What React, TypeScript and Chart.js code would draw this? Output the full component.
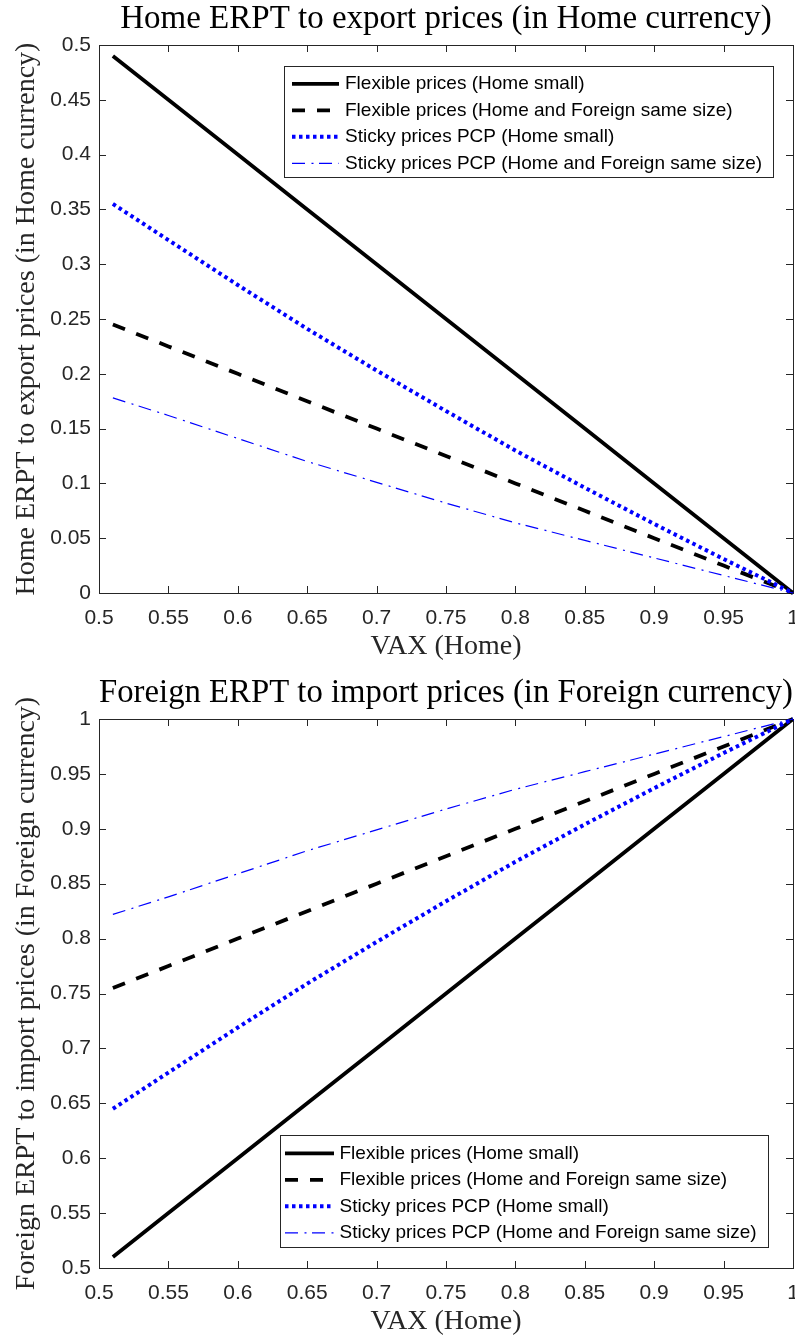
import React, { useEffect, useRef } from 'react';
import { Chart, registerables } from 'chart.js';

Chart.register(...registerables);

// ---------- data ----------
const vax = [0.51, 0.55, 0.6, 0.65, 0.7, 0.75, 0.8, 0.85, 0.9, 0.95, 1];

const homeFlexSmall = [0.49, 0.45, 0.4, 0.35, 0.3, 0.25, 0.2, 0.15, 0.1, 0.05, 0];
const homeFlexSame = [0.245, 0.225, 0.2, 0.175, 0.15, 0.125, 0.1, 0.075, 0.05, 0.025, 0];
const homeStickySmall = [0.355, 0.322, 0.281, 0.241, 0.203, 0.166, 0.13, 0.096, 0.063, 0.031, 0];
const homeStickySame = [0.178, 0.162, 0.141, 0.12, 0.101, 0.082, 0.064, 0.048, 0.032, 0.016, 0];

const foreignFlexSmall = [0.51, 0.55, 0.6, 0.65, 0.7, 0.75, 0.8, 0.85, 0.9, 0.95, 1];
const foreignFlexSame = [0.755, 0.775, 0.8, 0.825, 0.85, 0.875, 0.9, 0.925, 0.95, 0.975, 1];
const foreignStickySmall = [0.645, 0.678, 0.719, 0.759, 0.797, 0.834, 0.87, 0.904, 0.937, 0.969, 1];
const foreignStickySame = [0.822, 0.838, 0.859, 0.88, 0.899, 0.918, 0.936, 0.952, 0.968, 0.984, 1];

const seriesLabels = [
  'Flexible prices (Home small)',
  'Flexible prices (Home and Foreign same size)',
  'Sticky prices PCP (Home small)',
  'Sticky prices PCP (Home and Foreign same size)',
];

const xTicks = [0.5, 0.55, 0.6, 0.65, 0.7, 0.75, 0.8, 0.85, 0.9, 0.95, 1];
const xTickLabels = ['0.5', '0.55', '0.6', '0.65', '0.7', '0.75', '0.8', '0.85', '0.9', '0.95', '1'];
const homeYTicks = [0, 0.05, 0.1, 0.15, 0.2, 0.25, 0.3, 0.35, 0.4, 0.45, 0.5];
const homeYTickLabels = ['0', '0.05', '0.1', '0.15', '0.2', '0.25', '0.3', '0.35', '0.4', '0.45', '0.5'];
const foreignYTicks = [0.5, 0.55, 0.6, 0.65, 0.7, 0.75, 0.8, 0.85, 0.9, 0.95, 1];
const foreignYTickLabels = ['0.5', '0.55', '0.6', '0.65', '0.7', '0.75', '0.8', '0.85', '0.9', '0.95', '1'];

const homeTitle = 'Home ERPT to export prices (in Home currency)';
const homeYLabel = 'Home ERPT to export prices (in Home currency)';
const foreignTitle = 'Foreign ERPT to import prices (in Foreign currency)';
const foreignYLabel = 'Foreign ERPT to import prices (in Foreign currency)';
const xLabel = 'VAX (Home)';

// ---------- styles ----------
const AXIS = '#262626';
const SERIF = '"Liberation Serif", "Times New Roman", serif';
const SANS = '"Liberation Sans", Arial, sans-serif';

const seriesStyles = [
  { color: '#000000', width: 3.8, dash: [] as number[] },
  { color: '#000000', width: 3.8, dash: [13, 12] },
  { color: '#0000ff', width: 4, dash: [3.5, 3.5] },
  { color: '#0000ff', width: 1.2, dash: [13, 6.5, 2, 5.5] },
];

const axesBoxPlugin = {
  id: 'axesBox',
  beforeDatasetsDraw(chart: any) {
    const { ctx, chartArea: a, scales } = chart;
    const xs = scales.x;
    const ys = scales.y;
    const L = 7;
    ctx.save();
    ctx.strokeStyle = AXIS;
    ctx.lineWidth = 1;
    ctx.setLineDash([]);
    ctx.beginPath();
    for (const t of xs.ticks) {
      const px = Math.round(xs.getPixelForValue(t.value)) + 0.5;
      ctx.moveTo(px, a.bottom);
      ctx.lineTo(px, a.bottom - L);
      ctx.moveTo(px, a.top);
      ctx.lineTo(px, a.top + L);
    }
    for (const t of ys.ticks) {
      const py = Math.round(ys.getPixelForValue(t.value)) + 0.5;
      ctx.moveTo(a.left, py);
      ctx.lineTo(a.left + L, py);
      ctx.moveTo(a.right, py);
      ctx.lineTo(a.right - L, py);
    }
    ctx.stroke();
    ctx.strokeRect(Math.round(a.left) + 0.5, Math.round(a.top) + 0.5, Math.round(a.right - a.left), Math.round(a.bottom - a.top));
    ctx.restore();
  },
};

const boxLegendPlugin = {
  id: 'boxLegend',
  afterDatasetsDraw(chart: any, _args: any, opts: any) {
    const { ctx } = chart;
    ctx.save();
    ctx.fillStyle = '#ffffff';
    ctx.fillRect(opts.left, opts.top, opts.width, opts.height);
    ctx.strokeStyle = AXIS;
    ctx.lineWidth = 1;
    ctx.setLineDash([]);
    ctx.strokeRect(opts.left + 0.5, opts.top + 0.5, opts.width, opts.height);
    chart.data.datasets.forEach((ds: any, i: number) => {
      const y = opts.top + opts.rowStart + i * opts.rowGap;
      ctx.beginPath();
      ctx.strokeStyle = ds.borderColor;
      ctx.lineWidth = ds.borderWidth;
      ctx.lineCap = 'butt';
      ctx.setLineDash(ds.borderDash || []);
      ctx.moveTo(opts.left + opts.sampleStart, y);
      ctx.lineTo(opts.left + opts.sampleEnd, y);
      ctx.stroke();
      ctx.setLineDash([]);
      ctx.fillStyle = '#000000';
      ctx.font = `19px ${SANS}`;
      ctx.textBaseline = 'middle';
      ctx.textAlign = 'left';
      ctx.fillText(ds.label, opts.left + opts.textStart, y);
    });
    ctx.restore();
  },
};

type Panel = {
  height: number;
  chartTop: number;
  chartBottom: number;
  titleCenter: number;
  xTitleCenter: number;
  title: string;
  yLabel: string;
  series: number[][];
  yTicks: number[];
  yTickLabels: string[];
  yMin: number;
  yMax: number;
  legend: any;
};

function buildConfig(p: Panel): any {
  const titleSize = 33;
  const titlePadTop = p.titleCenter - titleSize / 2;
  const titlePadBottom = p.chartTop - titleSize - titlePadTop;
  const labelSize = 28;
  const labelLH = labelSize * 1.2;
  const xTitlePadBottom = p.height - p.xTitleCenter - labelLH / 2;
  return {
    type: 'line',
    data: {
      datasets: p.series.map((vals, i) => ({
        label: seriesLabels[i],
        data: vax.map((x, j) => ({ x, y: vals[j] })),
        borderColor: seriesStyles[i].color,
        backgroundColor: seriesStyles[i].color,
        borderWidth: seriesStyles[i].width,
        borderDash: seriesStyles[i].dash,
        borderCapStyle: 'butt',
        pointRadius: 0,
        fill: false,
        tension: 0,
        clip: false,
        order: 4 - i,
      })),
    },
    options: {
      animation: false,
      responsive: false,
      devicePixelRatio: 1,
      layout: { padding: { left: 0, right: 2, top: 0, bottom: 0 } },
      plugins: {
        legend: { display: false },
        tooltip: { enabled: false },
        title: {
          display: true,
          text: p.title,
          fullSize: false,
          color: '#000000',
          font: { family: SERIF, size: titleSize, weight: 'normal', lineHeight: 1 },
          padding: { top: titlePadTop, bottom: titlePadBottom },
        },
        boxLegend: p.legend,
      },
      scales: {
        x: {
          type: 'linear',
          min: 0.5,
          max: 1,
          afterBuildTicks: (s: any) => {
            s.ticks = xTicks.map((v) => ({ value: v }));
          },
          afterFit: (s: any) => {
            s.height = p.height - p.chartBottom;
            s.paddingLeft = 0;
            s.paddingRight = 0;
          },
          grid: { display: false, drawTicks: false },
          border: { display: false },
          ticks: {
            color: AXIS,
            font: { family: SANS, size: 21, lineHeight: 1 },
            padding: 14.5,
            maxRotation: 0,
            autoSkip: false,
            callback: (_v: any, i: number) => xTickLabels[i],
          },
          title: {
            display: true,
            text: xLabel,
            color: AXIS,
            font: { family: SERIF, size: labelSize, lineHeight: 1.2 },
            padding: { top: 0, bottom: xTitlePadBottom },
          },
        },
        y: {
          type: 'linear',
          min: p.yMin,
          max: p.yMax,
          afterBuildTicks: (s: any) => {
            s.ticks = p.yTicks.map((v) => ({ value: v }));
          },
          afterFit: (s: any) => {
            s.width = 99;
            s.paddingTop = 0;
            s.paddingBottom = 0;
          },
          grid: { display: false, drawTicks: false },
          border: { display: false },
          ticks: {
            color: AXIS,
            font: { family: SANS, size: 21, lineHeight: 1 },
            padding: 8,
            autoSkip: false,
            callback: (_v: any, i: number) => p.yTickLabels[i],
          },
          title: {
            display: true,
            text: p.yLabel,
            color: AXIS,
            font: { family: SERIF, size: labelSize, lineHeight: 1.2 },
            padding: { top: 27 - labelLH / 2, bottom: 0 },
          },
        },
      },
    },
    plugins: [axesBoxPlugin, boxLegendPlugin],
  };
}

const homePanel: Panel = {
  height: 668,
  chartTop: 45,
  chartBottom: 593,
  titleCenter: 19,
  xTitleCenter: 646.5,
  title: homeTitle,
  yLabel: homeYLabel,
  series: [homeFlexSmall, homeFlexSame, homeStickySmall, homeStickySame],
  yTicks: homeYTicks,
  yTickLabels: homeYTickLabels,
  yMin: 0,
  yMax: 0.5,
  legend: { left: 284, top: 66, width: 489, height: 111, rowStart: 17.8, rowGap: 26.5, sampleStart: 8, sampleEnd: 55, textStart: 61 },
};

const foreignPanel: Panel = {
  height: 669,
  chartTop: 51,
  chartBottom: 600,
  titleCenter: 25,
  xTitleCenter: 653.5,
  title: foreignTitle,
  yLabel: foreignYLabel,
  series: [foreignFlexSmall, foreignFlexSame, foreignStickySmall, foreignStickySame],
  yTicks: foreignYTicks,
  yTickLabels: foreignYTickLabels,
  yMin: 0.5,
  yMax: 1,
  legend: { left: 280, top: 467, width: 488, height: 112, rowStart: 18.3, rowGap: 26.5, sampleStart: 5, sampleEnd: 54, textStart: 59.5 },
};

function PanelChart({ panel }: { panel: Panel }) {
  const ref = useRef<HTMLCanvasElement>(null);
  useEffect(() => {
    if (!ref.current) return;
    const chart = new Chart(ref.current, buildConfig(panel));
    return () => chart.destroy();
  }, [panel]);
  return (
    <canvas
      ref={ref}
      width={795}
      height={panel.height}
      style={{ display: 'block', width: 795, height: panel.height }}
    />
  );
}

export default function App() {
  return (
    <div style={{ position: 'absolute', left: 0, top: 0, width: 795, height: 1337, background: '#ffffff' }}>
      <PanelChart panel={homePanel} />
      <PanelChart panel={foreignPanel} />
    </div>
  );
}
